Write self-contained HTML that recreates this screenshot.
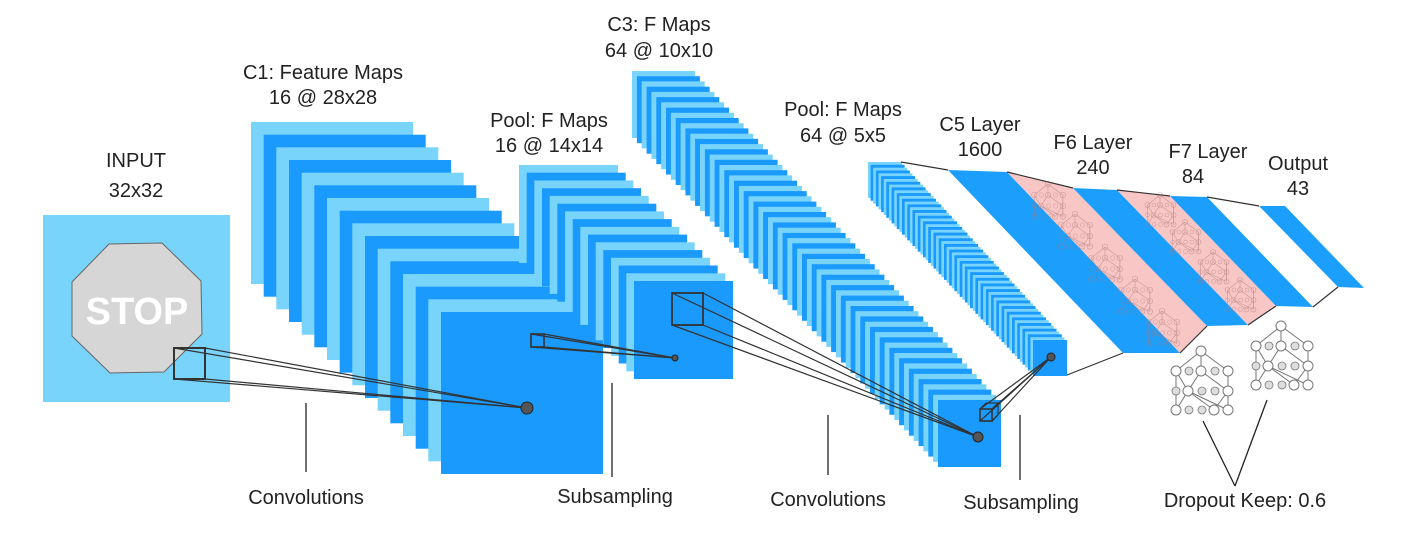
<!DOCTYPE html>
<html><head><meta charset="utf-8"><style>
html,body{margin:0;padding:0;background:#fff;width:1424px;height:544px;overflow:hidden}
svg text{font-family:"Liberation Sans",sans-serif;font-size:20px;fill:#222;text-anchor:middle}
</style></head><body>
<svg id="s" width="1424" height="544" viewBox="0 0 1424 544" xmlns="http://www.w3.org/2000/svg">
<g id="stacks"></g>
<rect x="43" y="215" width="187" height="187" fill="#79d4fc"/>
<polygon points="109,244 162,243 201,281 202,334 164,372 110,373 72,336 72,282" fill="#d6d6d6" stroke="#666" stroke-width="1"/>
<text x="137" y="324" style="font-size:38px;font-weight:bold;fill:#fff">STOP</text>
<polygon points="948,170 1007,172 1180,353 1123,353" fill="#1c9ffc"/>
<polygon points="1007,172 1073,188 1207,326 1180,353" fill="#f9c6c6"/>
<polygon points="1073,188 1117,190 1248,325 1207,326" fill="#1c9ffc"/>
<polygon points="1117,190 1170,196 1276,306 1248,325" fill="#f9c6c6"/>
<polygon points="1170,196 1207,197 1313,307 1276,306" fill="#1c9ffc"/>
<polygon points="1259,206 1285,206 1364,288 1338,287" fill="#1c9ffc"/>
<g stroke="#333" stroke-width="1.2" fill="none">
<line x1="901" y1="162" x2="948" y2="170"/>
<line x1="1067" y1="375" x2="1123" y2="353"/>
<line x1="1007" y1="172" x2="1073" y2="188"/>
<line x1="1180" y1="353" x2="1207" y2="326"/>
<line x1="1117" y1="190" x2="1170" y2="196"/>
<line x1="1248" y1="325" x2="1276" y2="306"/>
<line x1="1207" y1="197" x2="1259" y2="206"/>
<line x1="1313" y1="307" x2="1338" y2="287"/>
</g>
<g id="pinknets" opacity="0.6"></g>
<g id="nets"></g>
<g stroke="#333" stroke-width="1.2" fill="none">
<rect x="174" y="348" width="31" height="31" stroke-width="2"/>
<line x1="174" y1="348" x2="527" y2="408"/><line x1="205" y1="348" x2="527" y2="408"/>
<line x1="174" y1="379" x2="527" y2="408"/><line x1="205" y1="379" x2="527" y2="408"/>
<rect x="531" y="334" width="13" height="13" stroke-width="1.6"/>
<line x1="531" y1="334" x2="675" y2="358"/><line x1="544" y1="334" x2="675" y2="358"/>
<line x1="531" y1="347" x2="675" y2="358"/><line x1="544" y1="347" x2="675" y2="358"/>
<rect x="672" y="293" width="31" height="32" stroke-width="1.8"/>
<line x1="672" y1="293" x2="978" y2="437"/><line x1="703" y1="293" x2="978" y2="437"/>
<line x1="672" y1="325" x2="978" y2="437"/><line x1="703" y1="325" x2="978" y2="437"/>
<rect x="980" y="409" width="12" height="12" stroke-width="1.6"/>
<line x1="980" y1="409" x2="1051" y2="357"/><line x1="992" y1="409" x2="1051" y2="357"/>
<line x1="980" y1="421" x2="1051" y2="357"/><line x1="992" y1="421" x2="1051" y2="357"/>
<line x1="986" y1="403" x2="998" y2="403"/><line x1="998" y1="403" x2="998" y2="415"/>
<line x1="980" y1="409" x2="986" y2="403"/><line x1="992" y1="409" x2="998" y2="403"/><line x1="992" y1="421" x2="998" y2="415"/>
</g>
<g fill="#555" stroke="#222" stroke-width="1">
<circle cx="527" cy="408" r="6"/><circle cx="675" cy="358" r="3"/>
<circle cx="978" cy="437" r="5"/><circle cx="1051" cy="357" r="4"/>
</g>
<g stroke="#222" stroke-width="1.3">
<line x1="306" y1="403" x2="306" y2="472"/>
<line x1="612" y1="383" x2="612" y2="477"/>
<line x1="828" y1="415" x2="828" y2="475"/>
<line x1="1020" y1="415" x2="1020" y2="480"/>
<line x1="1203" y1="421" x2="1235" y2="486"/>
<line x1="1267" y1="400" x2="1235" y2="486"/>
</g>
<text x="136" y="167">INPUT</text><text x="136" y="197">32x32</text>
<text x="323" y="79">C1: Feature Maps</text><text x="323" y="104">16 @ 28x28</text>
<text x="549" y="127">Pool: F Maps</text><text x="549" y="152">16 @ 14x14</text>
<text x="659" y="31">C3: F Maps</text><text x="659" y="57">64 @ 10x10</text>
<text x="843" y="116">Pool: F Maps</text><text x="843" y="142">64 @ 5x5</text>
<text x="980" y="131">C5 Layer</text><text x="980" y="156">1600</text>
<text x="1093" y="149">F6 Layer</text><text x="1093" y="174">240</text>
<text x="1208" y="158">F7 Layer</text><text x="1193" y="183">84</text>
<text x="1298" y="170">Output</text><text x="1298" y="195">43</text>
<text x="306" y="504">Convolutions</text>
<text x="615" y="503">Subsampling</text>
<text x="828" y="506">Convolutions</text>
<text x="1021" y="509">Subsampling</text>
<text x="1245" y="507">Dropout Keep: 0.6</text>
</svg>
<script>
var NS="http://www.w3.org/2000/svg";
function el(p,t,a){var e=document.createElementNS(NS,t);for(var k in a)e.setAttribute(k,a[k]);p.appendChild(e);return e;}
var g=document.getElementById("stacks");
function stack(n,x0,y0,x1,y1,w,h){
  for(var i=0;i<n;i++){
    var x=x0+(x1-x0)*i/(n-1), y=y0+(y1-y0)*i/(n-1);
    el(g,"rect",{x:x.toFixed(1),y:y.toFixed(1),width:w,height:h,fill:(i%2==0)?"#79d4fc":"#1a9afc"});
  }
}
stack(16,251,122,441,312,162,162);
stack(16,519,165,634,281,99,98);
stack(64,632,71,938,400,63,67);
stack(64,868,162,1033,340,34,36);
var ng=document.getElementById("nets");
function net(ox,oy,s,col,par,faint){
  var P=function(x,y){return [ox+x*s,oy+y*s];};
  var nodes=[[0,-20],[-25,0],[0,0],[27,0],[-13,20],[27,20],[-25,39],[13,39],[27,39]];
  var X=[[-12,0],[14,0],[-25,20],[1,20],[14,20],[-12,39],[1,39]];
  var E=[[0,1],[0,2],[0,3],[1,4],[2,4],[3,5],[4,6],[4,7],[5,8],[1,6],[2,5],[3,8],[4,8],[5,7]];
  var sw=faint?0.6:1;
  E.forEach(function(e){var a=P.apply(0,nodes[e[0]]),b=P.apply(0,nodes[e[1]]);el(par,"line",{x1:a[0],y1:a[1],x2:b[0],y2:b[1],stroke:col,"stroke-width":sw});});
  nodes.forEach(function(n){var p=P(n[0],n[1]);el(par,"circle",{cx:p[0],cy:p[1],r:5*s,fill:faint?"none":"#fff",stroke:col,"stroke-width":sw});});
  X.forEach(function(n){var p=P(n[0],n[1]);el(par,"circle",{cx:p[0],cy:p[1],r:4*s,fill:faint?"none":"#ddd",stroke:col,"stroke-width":sw*0.8});});
}
net(1201,371,1,"#777",ng,false);
net(1281,346,1,"#777",ng,false);
var pg=document.getElementById("pinknets");
[[1048,195],[1075,225],[1105,258],[1135,290],[1162,322]].forEach(function(p){net(p[0],p[1],0.55,"#a77",pg,true);});
[[1160,205],[1185,232],[1213,262],[1240,290]].forEach(function(p){net(p[0],p[1],0.5,"#a77",pg,true);});
</script>
</body></html>
